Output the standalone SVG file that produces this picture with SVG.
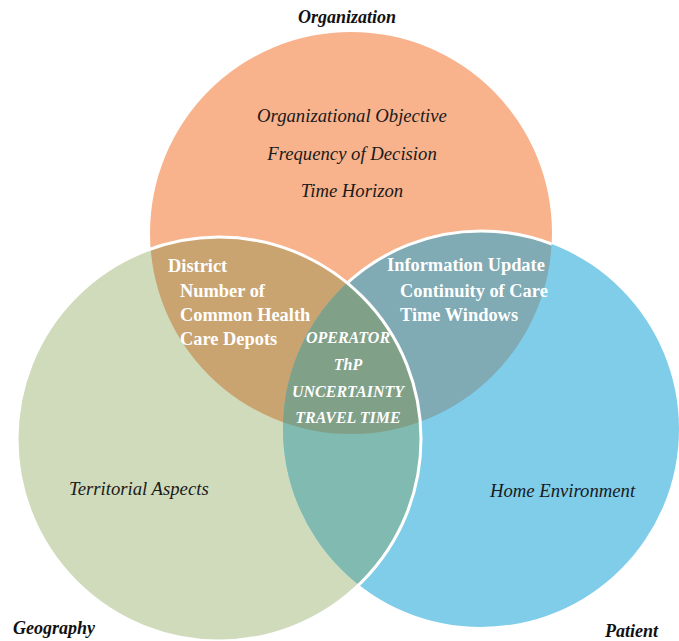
<svg xmlns="http://www.w3.org/2000/svg" width="679" height="641" viewBox="0 0 679 641">
  <style>
    .lbl { font-family: "Liberation Serif", "Times New Roman", serif; font-size: 18px; }
    .it { font-style: italic; fill: #1a1a1a; font-size: 18.7px; }
    .title { font-style: italic; font-weight: bold; fill: #111; }
    .wb { font-weight: bold; fill: #ffffff; font-size: 18.4px; }
    .wbi { font-weight: bold; font-style: italic; fill: #ffffff; font-size: 16px; }
    .ws { fill: none; stroke: #ffffff; stroke-width: 3; }
  </style>
  <defs>
    <circle id="cOrg" cx="351" cy="233" r="201"/>
    <circle id="cGeo" cx="219" cy="439" r="202"/>
    <circle id="cPat" cx="481" cy="429" r="198"/>
    <clipPath id="clipOrg"><use href="#cOrg"/></clipPath>
    <clipPath id="clipGeo"><use href="#cGeo"/></clipPath>
    <clipPath id="clipPat"><use href="#cPat"/></clipPath>
    <mask id="outsideGeo">
      <rect width="679" height="641" fill="#fff"/>
      <use href="#cGeo" fill="#000"/>
    </mask>
  </defs>

  <g id="organization">
    <use href="#cOrg" fill="#F8B38D"/>
  </g>
  <g id="geography">
    <use href="#cGeo" fill="#D0DBBC"/>
  </g>
  <g id="patient">
    <use href="#cPat" fill="#80CDEA"/>
  </g>

  <g id="org-geo">
    <g clip-path="url(#clipOrg)"><use href="#cGeo" fill="#C9A470"/></g>
  </g>
  <g id="org-pat">
    <g clip-path="url(#clipOrg)"><use href="#cPat" fill="#80AAB4"/></g>
  </g>
  <g id="geo-pat">
    <g clip-path="url(#clipGeo)"><use href="#cPat" fill="#80BAB0"/></g>
  </g>
  <g id="center">
    <g clip-path="url(#clipOrg)"><g clip-path="url(#clipGeo)"><use href="#cPat" fill="#80A088"/></g></g>
  </g>

  <g id="outlines">
    <g mask="url(#outsideGeo)"><g clip-path="url(#clipOrg)"><use href="#cPat" class="ws"/></g></g>
    <use href="#cGeo" class="ws"/>
  </g>

  <g id="labels" class="lbl">
    <text class="title" x="347" y="23" text-anchor="middle">Organization</text>
    <text class="it" x="352" y="122" text-anchor="middle">Organizational Objective</text>
    <text class="it" x="352" y="160" text-anchor="middle">Frequency of Decision</text>
    <text class="it" x="352" y="197" text-anchor="middle">Time Horizon</text>

    <text class="wb" x="168" y="272">District</text>
    <text class="wb" x="180" y="297">Number of</text>
    <text class="wb" x="180" y="321">Common Health</text>
    <text class="wb" x="180" y="345">Care Depots</text>

    <text class="wb" x="387" y="271">Information Update</text>
    <text class="wb" x="400" y="297">Continuity of Care</text>
    <text class="wb" x="400" y="321">Time Windows</text>

    <text class="wbi" x="348" y="343" text-anchor="middle">OPERATOR</text>
    <text class="wbi" x="348" y="370" text-anchor="middle">ThP</text>
    <text class="wbi" x="348" y="397" text-anchor="middle">UNCERTAINTY</text>
    <text class="wbi" x="348" y="423" text-anchor="middle">TRAVEL TIME</text>

    <text class="it" x="69" y="495">Territorial Aspects</text>
    <text class="it" x="490" y="497">Home Environment</text>

    <text class="title" x="13" y="634">Geography</text>
    <text class="title" x="605" y="637">Patient</text>
  </g>
</svg>
